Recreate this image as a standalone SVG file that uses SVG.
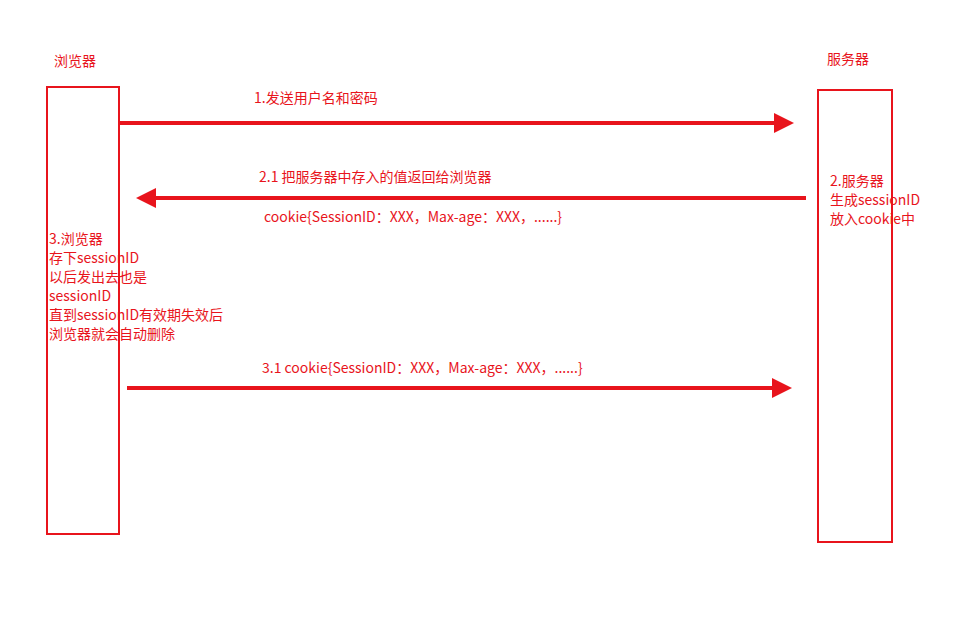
<svg xmlns="http://www.w3.org/2000/svg" width="953" height="636" viewBox="0 0 953 636">
<style>
text{font-family:"Noto Sans CJK SC","Liberation Sans",sans-serif;font-size:14px;fill:#e8141c}
.box{fill:none;stroke:#e8141c;stroke-width:2}
.arr{stroke:#e8141c;stroke-width:4;fill:none;marker-end:url(#ah)}
</style>
<defs><marker id="ah" markerWidth="5" markerHeight="5" refX="4" refY="2.5" orient="auto" markerUnits="strokeWidth"><path d="M0,0L5,2.5L0,5z" fill="#e8141c"/></marker></defs>
<rect width="953" height="636" fill="#fff"/>
<g id="browser"><rect class="box" x="47" y="87" width="72" height="447"/><text x="54" y="66">浏览器</text>
<text x="49" y="244">3.浏览器</text><text x="49" y="263">存下sessionID</text><text x="49" y="282">以后发出去也是</text><text x="49" y="301">sessionID</text><text x="49" y="320">直到sessionID有效期失效后</text><text x="49" y="339">浏览器就会自动删除</text></g>
<g id="server"><rect class="box" x="818" y="90" width="74" height="452"/><text x="827" y="64">服务器</text>
<text x="830" y="186">2.服务器</text><text x="830" y="205">生成sessionID</text><text x="830" y="224">放入cookie中</text></g>
<g id="connectors">
<line class="arr" x1="118" y1="123" x2="790" y2="123"/>
<line class="arr" x1="806" y1="198" x2="140" y2="198"/>
<line class="arr" x1="127" y1="388" x2="788" y2="388"/>
<text x="254" y="103">1.发送用户名和密码</text>
<text x="259" y="182">2.1 把服务器中存入的值返回给浏览器</text>
<text x="264" y="222">cookie{SessionID：XXX，Max-age：XXX，......}</text>
<text x="262" y="373">3.1 cookie{SessionID：XXX，Max-age：XXX，......}</text>
</g>
</svg>
